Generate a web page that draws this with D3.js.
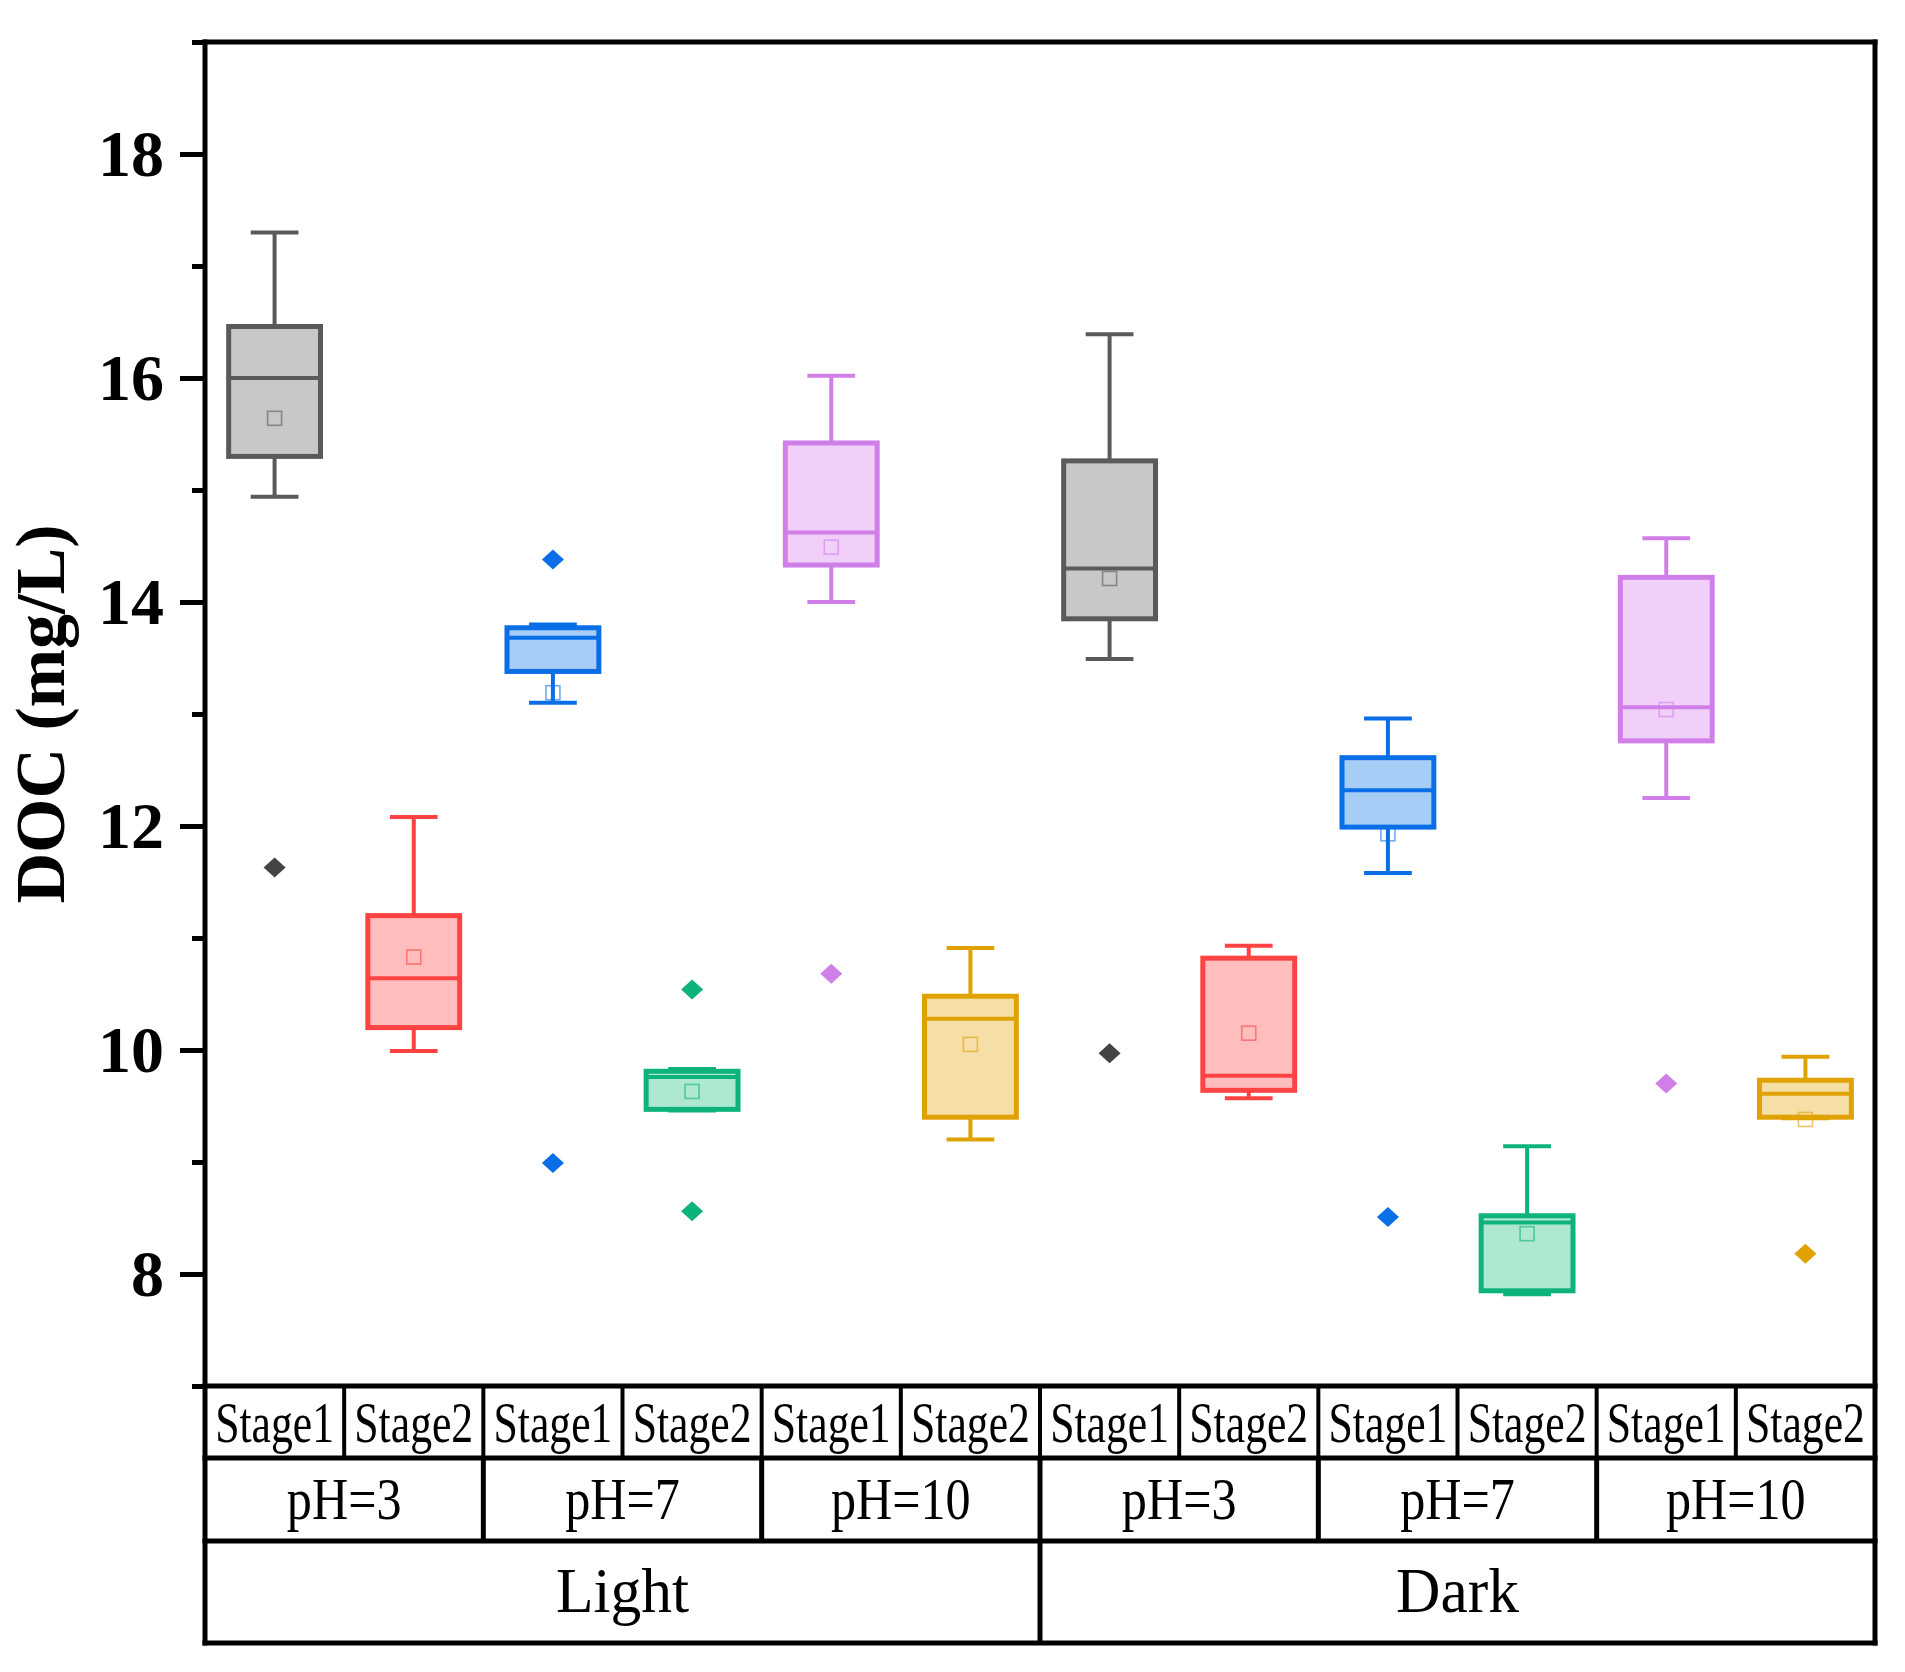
<!DOCTYPE html>
<html>
<head>
<meta charset="utf-8">
<script src="https://cdn.jsdelivr.net/npm/d3@7"></script>
<style>
  html, body { margin: 0; padding: 0; background: #fff; }
  svg { display: block; }
</style>
</head>
<body>
<div id="chart"></div>
<script>
// ---------------- DATA ----------------
const stages = ["Stage1","Stage2","Stage1","Stage2","Stage1","Stage2","Stage1","Stage2","Stage1","Stage2","Stage1","Stage2"];
const phLabels = ["pH=3","pH=7","pH=10","pH=3","pH=7","pH=10"];
const lightLabels = ["Light","Dark"];
const yTicks = [8,10,12,14,16,18];
const yMinorTicks = [7,9,11,13,15,17,19];

const whiskerHigh = [17.30, 12.08, 13.80, 9.83, 16.02, 10.91, 16.39, 10.93, 12.96, 9.14, 14.57, 9.94];
const q3          = [16.46, 11.20, 13.77, 9.81, 15.42, 10.48, 15.26, 10.82, 12.61, 8.52, 14.22, 9.73];
const median      = [16.00, 10.64, 13.68, 9.76, 14.62, 10.28, 14.30, 9.77, 12.32, 8.46, 13.06, 9.61];
const mean        = [15.64, 10.83, 13.19, 9.63, 14.49, 10.05, 14.21, 10.15, 11.93, 8.36, 13.04, 9.38];
const q1          = [15.30, 10.20, 13.38, 9.47, 14.33, 9.40, 13.85, 9.64, 11.99, 7.85, 12.76, 9.40];
const whiskerLow  = [14.94, 9.99, 13.10, 9.46, 14.00, 9.20, 13.49, 9.57, 11.58, 7.82, 12.25, 9.39];
const outliers    = [[11.63],[],[14.38, 8.99],[10.54, 8.56],[10.68],[],[9.97],[],[8.51],[],[9.70],[8.18]];

const strokeColors = ["#5a5a5a","#ff4242","#0a6fe6","#0db37a","#d07fe8","#e0a200","#5a5a5a","#ff4242","#0a6fe6","#0db37a","#d07fe8","#e0a200"];
const fillColors   = ["#c8c8c8","#ffbdbd","#a6cdf6","#aee8d0","#f0d0f8","#f6dfa6","#c8c8c8","#ffbdbd","#a6cdf6","#aee8d0","#f0d0f8","#f6dfa6"];
const outlierColors= ["#444444","#ff4242","#0a6fe6","#0db37a","#d07fe8","#e0a200","#444444","#ff4242","#0a6fe6","#0db37a","#d07fe8","#e0a200"];

// ---------------- LAYOUT ----------------
const W = 1905, H = 1672;
const plotLeft = 205, plotRight = 1875, plotTop = 42, plotBottom = 1386;
const rowStage = 1458, rowPh = 1541, rowCond = 1643;
const font = "'Liberation Serif', 'Times New Roman', serif";

const svg = d3.select("#chart").append("svg")
  .attr("width", W).attr("height", H)
  .attr("viewBox", `0 0 ${W} ${H}`);

const x = d3.scaleBand().domain(d3.range(stages.length)).range([plotLeft, plotRight]).paddingInner(0).paddingOuter(0);
const y = d3.scaleLinear().domain([7, 19]).range([plotBottom, plotTop]);

const bw = x.bandwidth();
const boxW = bw * 0.66;
const capW = boxW * 0.52;

// ---------------- BOXES ----------------
const g = svg.append("g");
stages.forEach((s, i) => {
  const cx = x(i) + bw / 2;
  const sc = strokeColors[i], fc = fillColors[i];
  const bg = g.append("g");
  bg.append("line").attr("x1", cx).attr("x2", cx).attr("y1", y(q3[i])).attr("y2", y(whiskerHigh[i]))
    .attr("stroke", sc).attr("stroke-width", 4);
  bg.append("line").attr("x1", cx).attr("x2", cx).attr("y1", y(q1[i])).attr("y2", y(whiskerLow[i]))
    .attr("stroke", sc).attr("stroke-width", 4);
  [whiskerHigh[i], whiskerLow[i]].forEach(v => {
    bg.append("line").attr("x1", cx - capW/2).attr("x2", cx + capW/2).attr("y1", y(v)).attr("y2", y(v))
      .attr("stroke", sc).attr("stroke-width", 4);
  });
  bg.append("rect").attr("x", cx - boxW/2).attr("y", y(q3[i]))
    .attr("width", boxW).attr("height", Math.max(1, y(q1[i]) - y(q3[i])))
    .attr("fill", fc).attr("stroke", sc).attr("stroke-width", 5);
  bg.append("line").attr("x1", cx - boxW/2).attr("x2", cx + boxW/2).attr("y1", y(median[i])).attr("y2", y(median[i]))
    .attr("stroke", sc).attr("stroke-width", 4);
  const ms = 14;
  bg.append("rect").attr("x", cx - ms/2).attr("y", y(mean[i]) - ms/2).attr("width", ms).attr("height", ms)
    .attr("fill", "none").attr("stroke", sc).attr("stroke-opacity", 0.6).attr("stroke-width", 1.6);
  outliers[i].forEach(v => {
    const oy = y(v), hw = 11, hh = 10;
    bg.append("path")
      .attr("d", `M${cx},${oy-hh}L${cx+hw},${oy}L${cx},${oy+hh}L${cx-hw},${oy}Z`)
      .attr("fill", outlierColors[i]);
  });
});

// ---------------- AXES ----------------
const yAxis = d3.axisLeft(y).tickValues(yTicks).tickSize(25).tickPadding(16).tickFormat(d3.format("d"));
const ya = svg.append("g").attr("transform", `translate(${plotLeft},0)`).call(yAxis);
ya.select(".domain").remove();
ya.selectAll(".tick line").attr("stroke", "#000").attr("stroke-width", 5);
ya.selectAll(".tick text").attr("font-family", font).attr("font-weight", "bold")
  .attr("font-size", 66).attr("fill", "#000");

const yMinor = d3.axisLeft(y).tickValues(yMinorTicks).tickSize(13).tickFormat("");
const ym = svg.append("g").attr("transform", `translate(${plotLeft},0)`).call(yMinor);
ym.select(".domain").remove();
ym.selectAll(".tick line").attr("stroke", "#000").attr("stroke-width", 5);

const lw = 5;
svg.append("line").attr("x1", plotLeft).attr("x2", plotLeft).attr("y1", plotTop - lw/2).attr("y2", rowCond + lw/2)
  .attr("stroke", "#000").attr("stroke-width", lw);
svg.append("line").attr("x1", plotRight).attr("x2", plotRight).attr("y1", plotTop - lw/2).attr("y2", rowCond + lw/2)
  .attr("stroke", "#000").attr("stroke-width", lw);
[plotTop, plotBottom, rowStage, rowPh, rowCond].forEach(yy => {
  svg.append("line").attr("x1", plotLeft - lw/2).attr("x2", plotRight + lw/2).attr("y1", yy).attr("y2", yy)
    .attr("stroke", "#000").attr("stroke-width", lw);
});

svg.append("text")
  .attr("transform", `translate(64,${(plotTop + plotBottom)/2}) rotate(-90)`)
  .attr("text-anchor", "middle")
  .attr("font-family", font).attr("font-weight", "bold").attr("font-size", 70)
  .attr("fill", "#000")
  .text("DOC (mg/L)");

// ---------------- CATEGORY TABLE ----------------
const tbl = svg.append("g");
function cellText(label, x0, x1, baseline, size, sx) {
  tbl.append("text")
    .attr("transform", `translate(${(x0 + x1)/2},${baseline}) scale(${sx},1)`)
    .attr("text-anchor", "middle")
    .attr("font-family", font).attr("font-size", size).attr("fill", "#000")
    .text(label);
}
function vline(xx, y0, y1, w) {
  tbl.append("line").attr("x1", xx).attr("x2", xx).attr("y1", y0).attr("y2", y1)
    .attr("stroke", "#000").attr("stroke-width", w);
}
stages.forEach((s, i) => {
  const x0 = x(i), x1 = x(i) + bw;
  cellText(s, x0, x1, 1442, 56, 0.78);
  if (i > 0) vline(x0, plotBottom, rowStage, 4);
});
const per = stages.length / phLabels.length;
phLabels.forEach((p, j) => {
  const x0 = x(j * per), x1 = x(j * per) + bw * per;
  cellText(p, x0, x1, 1519, 59, 0.85);
  if (j > 0) vline(x0, rowStage, rowPh, 5);
});
const per2 = stages.length / lightLabels.length;
lightLabels.forEach((l, k) => {
  const x0 = x(k * per2), x1 = x(k * per2) + bw * per2;
  cellText(l, x0, x1, 1612, 64, 0.96);
  if (k > 0) vline(x0, rowPh, rowCond, 5);
});
</script>
</body>
</html>
